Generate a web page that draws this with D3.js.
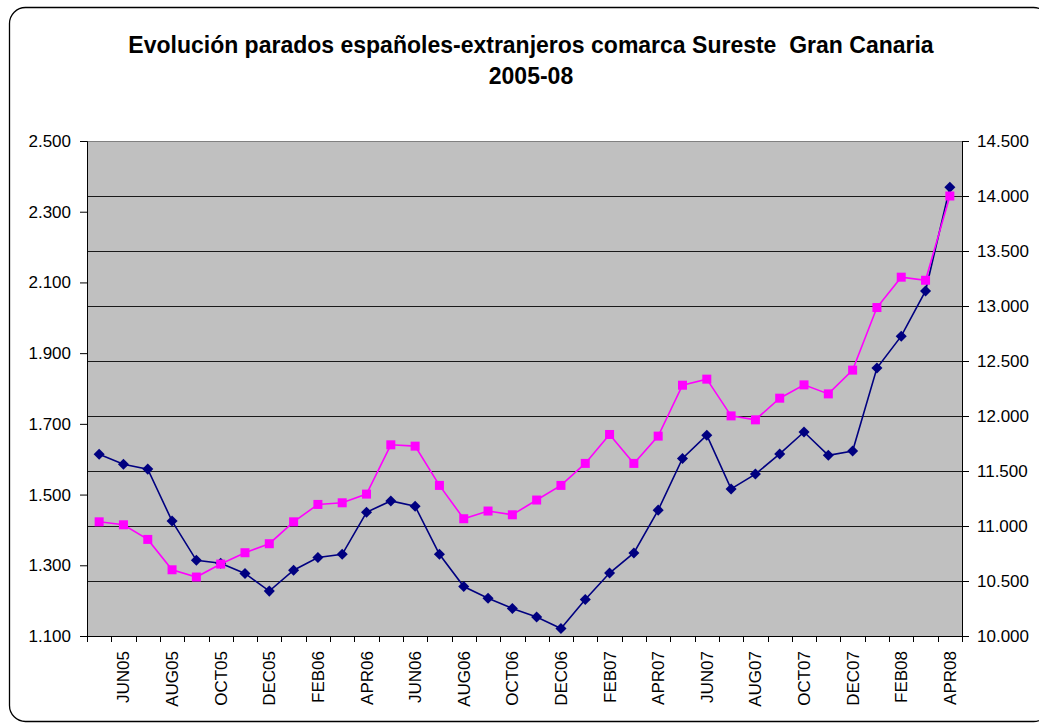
<!DOCTYPE html>
<html>
<head>
<meta charset="utf-8">
<script src="https://cdn.jsdelivr.net/npm/d3@7/dist/d3.min.js"></script>
<style>
  html, body { margin: 0; padding: 0; background: #fff; }
  svg { display: block; font-family: "Liberation Sans", Arial, sans-serif; }
</style>
</head>
<body>
<svg id="chart" width="1039" height="724"></svg>
<script>
// Monthly categories, May 2005 – April 2008
const months = [
  "MAY05","JUN05","JUL05","AUG05","SEP05","OCT05","NOV05","DEC05",
  "JAN06","FEB06","MAR06","APR06","MAY06","JUN06","JUL06","AUG06","SEP06","OCT06","NOV06","DEC06",
  "JAN07","FEB07","MAR07","APR07","MAY07","JUN07","JUL07","AUG07","SEP07","OCT07","NOV07","DEC07",
  "JAN08","FEB08","MAR08","APR08"
];

// Unemployed foreign residents (left axis)
const extranjeros = [
  1614, 1586, 1572, 1425, 1314, 1306, 1277, 1227,
  1286, 1322, 1331, 1450, 1482, 1467, 1331, 1240, 1207, 1178, 1154, 1121,
  1203, 1278, 1335, 1456, 1602, 1668, 1516, 1558, 1615, 1677, 1611, 1623,
  1858, 1948, 2076, 2369
];

// Unemployed Spanish residents (right axis)
const espanoles = [
  11038, 11011, 10878, 10602, 10536, 10654, 10757, 10839,
  11038, 11196, 11211, 11290, 11738, 11726, 11369, 11066, 11136, 11102, 11236, 11369,
  11569, 11832, 11569, 11817, 12280, 12335, 12001, 11965, 12162, 12283, 12201, 12417,
  12986, 13262, 13234, 14000
];

const leftTicks = [1100, 1300, 1500, 1700, 1900, 2100, 2300, 2500];
const rightTicks = [10000, 10500, 11000, 11500, 12000, 12500, 13000, 13500, 14000, 14500];

const titleLines = [
  "Evolución parados españoles-extranjeros comarca Sureste  Gran Canaria",
  "2005-08"
];

const svg = d3.select("#chart");
// Spanish number style: dot as thousands separator
const fmt = d3.formatLocale({ decimal: ",", thousands: ".", grouping: [3], currency: ["", "€"] }).format(",.0f");
const labelFont = 17;

const plot = { left: 87, right: 962, top: 141, bottom: 636 };

// Outer chart frame
svg.append("rect")
  .attr("x", 9.5).attr("y", 7.5)
  .attr("width", 1040).attr("height", 714)
  .attr("rx", 16).attr("ry", 16)
  .attr("fill", "#fff").attr("stroke", "#000").attr("stroke-width", 1.3);

// Title
svg.append("text")
  .attr("text-anchor", "middle")
  .attr("font-size", 23).attr("font-weight", "bold").attr("fill", "#000")
  .attr("xml:space", "preserve")
  .style("white-space", "pre")
  .selectAll("tspan").data(titleLines).join("tspan")
  .attr("x", 531)
  .attr("y", (d, i) => 53 + i * 31)
  .text(d => d);

const x = d3.scaleBand().domain(months).range([plot.left, plot.right]).padding(0);
const yL = d3.scaleLinear().domain([1100, 2500]).range([plot.bottom, plot.top]);
const yR = d3.scaleLinear().domain([10000, 14500]).range([plot.bottom, plot.top]);

// Plot background
svg.append("rect")
  .attr("x", plot.left).attr("y", plot.top)
  .attr("width", plot.right - plot.left).attr("height", plot.bottom - plot.top)
  .attr("fill", "#C0C0C0");

// Horizontal gridlines follow the right-hand scale
svg.append("g").selectAll("line")
  .data(rightTicks.slice(1, -1)).join("line")
  .attr("x1", plot.left).attr("x2", plot.right)
  .attr("y1", d => Math.round(yR(d)) + 0.5).attr("y2", d => Math.round(yR(d)) + 0.5)
  .attr("stroke", "#1a1a1a").attr("stroke-width", 1);

// Top edge of the plot area
svg.append("line")
  .attr("x1", plot.left).attr("x2", plot.right)
  .attr("y1", plot.top + 0.5).attr("y2", plot.top + 0.5)
  .attr("stroke", "#808080").attr("stroke-width", 1.2);

// Left axis
const gL = svg.append("g")
  .attr("transform", `translate(${plot.left},0)`)
  .call(d3.axisLeft(yL).tickValues(leftTicks).tickSize(7).tickPadding(9).tickFormat(fmt));
gL.selectAll("text").attr("font-size", labelFont).attr("fill", "#000")
  .attr("font-family", "Liberation Sans, Arial, sans-serif");

// Right axis
const gR = svg.append("g")
  .attr("transform", `translate(${plot.right},0)`)
  .call(d3.axisRight(yR).tickValues(rightTicks).tickSize(7).tickPadding(8).tickFormat(fmt));
gR.selectAll("text").attr("font-size", labelFont).attr("fill", "#000")
  .attr("font-family", "Liberation Sans, Arial, sans-serif");

[gL, gR].forEach(g => {
  g.select(".domain").attr("stroke", "#000");
  g.selectAll(".tick line").attr("stroke", "#000");
});

// Bottom axis: ticks on category boundaries, labels on every second month
const boundaries = months.map(m => x(m)).concat([plot.right]);
const gB = svg.append("g").attr("transform", `translate(0,${plot.bottom})`);
gB.append("line").attr("x1", plot.left).attr("x2", plot.right).attr("y1", 0.5).attr("y2", 0.5).attr("stroke", "#000");
gB.selectAll("line.tick").data(boundaries).join("line").attr("class", "tick")
  .attr("x1", d => Math.round(d) + 0.5).attr("x2", d => Math.round(d) + 0.5)
  .attr("y1", 0).attr("y2", 6).attr("stroke", "#000");
gB.selectAll("text").data(months.filter((m, i) => i % 2 === 1)).join("text")
  .attr("transform", d => `translate(${x(d) + x.bandwidth() / 2 + 6},15) rotate(-90)`)
  .attr("text-anchor", "end")
  .attr("font-size", labelFont).attr("fill", "#000")
  .text(d => d);

const cx = d => x(d) + x.bandwidth() / 2;

// Foreign residents series: navy line with diamonds
svg.append("path")
  .datum(extranjeros)
  .attr("fill", "none").attr("stroke", "#000080").attr("stroke-width", 1.6)
  .attr("d", d3.line().x((d, i) => cx(months[i])).y(d => yL(d)));
svg.append("g").selectAll("path")
  .data(extranjeros).join("path")
  .attr("transform", (d, i) => `translate(${cx(months[i])},${yL(d)})`)
  .attr("d", d3.symbol(d3.symbolDiamond2, 78))
  .attr("fill", "#000080");

// Spanish residents series: magenta line with squares
svg.append("path")
  .datum(espanoles)
  .attr("fill", "none").attr("stroke", "#FF00FF").attr("stroke-width", 1.6)
  .attr("d", d3.line().x((d, i) => cx(months[i])).y(d => yR(d)));
svg.append("g").selectAll("rect")
  .data(espanoles).join("rect")
  .attr("x", (d, i) => cx(months[i]) - 4.5)
  .attr("y", d => yR(d) - 4.5)
  .attr("width", 9).attr("height", 9)
  .attr("fill", "#FF00FF");
</script>
</body>
</html>
